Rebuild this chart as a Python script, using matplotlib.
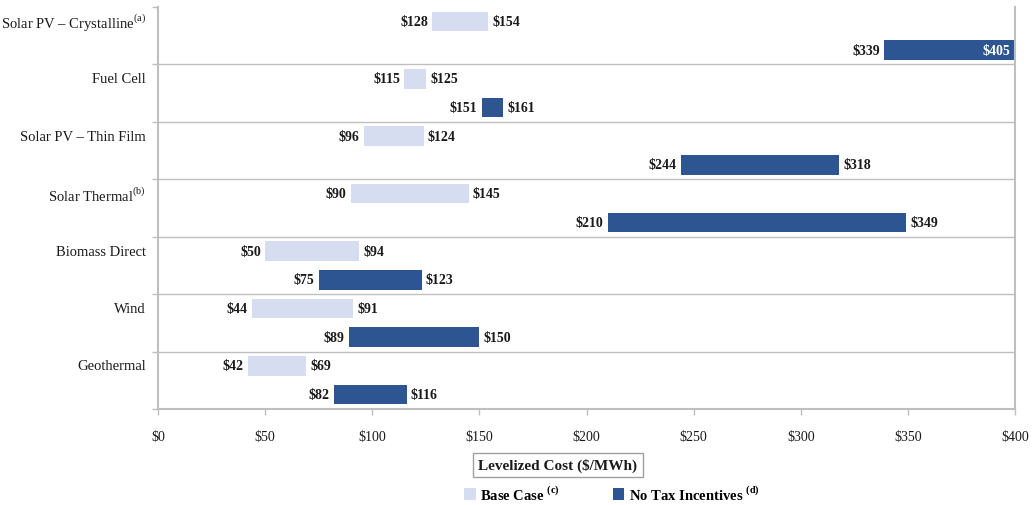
import matplotlib
matplotlib.use("Agg")
import matplotlib.pyplot as plt
from matplotlib.patches import Patch

plt.rcParams['font.family'] = ['Liberation Serif', 'DejaVu Serif']
plt.rcParams['mathtext.fontset'] = 'custom'
plt.rcParams['mathtext.rm'] = 'Liberation Serif'
plt.rcParams['mathtext.bf'] = 'Liberation Serif:bold'

categories = ["Solar PV – Crystalline", "Fuel Cell", "Solar PV – Thin Film",
              "Solar Thermal", "Biomass Direct", "Wind", "Geothermal"]
notes = ["(a)", "", "", "(b)", "", "", ""]
base_low = [128, 115, 96, 90, 50, 44, 42]
base_high = [154, 125, 124, 145, 94, 91, 69]
notax_low = [339, 151, 244, 210, 75, 89, 82]
notax_high = [405, 161, 318, 349, 123, 150, 116]
xticks = [0, 50, 100, 150, 200, 250, 300, 350, 400]

light = "#D7DDF1"
dark = "#2D5592"
grid = "#BFBFBF"
xmax = 400

fig = plt.figure(figsize=(10.34, 5.06), dpi=100)
ax = fig.add_axes([158 / 1034, 1 - 410 / 506, (1015 - 158) / 1034, (410 - 8) / 506])
ax.set_xlim(0, xmax)
ax.set_ylim(len(categories), 0)

h = 0.34
for i, cat in enumerate(categories):
    for lo, hi, col, yoff in ((base_low[i], base_high[i], light, 0.25),
                              (notax_low[i], notax_high[i], dark, 0.75)):
        y = i + yoff
        ax.barh(y, hi - lo, left=lo, height=h, color=col, edgecolor='none')
        ax.text(lo - 2, y, f"${lo}", ha='right', va='center', fontsize=10,
                fontweight='bold', color='#1a1a1a')
        if hi > xmax:
            ax.text(xmax - 2, y, f"${hi}", ha='right', va='center', fontsize=10,
                    fontweight='bold', color='white')
        else:
            ax.text(hi + 2, y, f"${hi}", ha='left', va='center', fontsize=10,
                    fontweight='bold', color='#1a1a1a')
    label = cat + (r"$^{\mathrm{" + notes[i] + "}}$" if notes[i] else "")
    ax.text(-0.014, i + 0.25, label, transform=ax.get_yaxis_transform(),
            ha='right', va='center', fontsize=10.5, color='#1a1a1a')

# group separators
for b in range(1, len(categories)):
    ax.axhline(b, color=grid, lw=1)

ax.set_yticks(range(len(categories) + 1))
ax.set_yticklabels([])
ax.set_xticks(xticks)
ax.set_xticklabels([f"${t}" for t in xticks], fontsize=10, color='#1a1a1a')
ax.tick_params(axis='both', color=grid, length=4, width=1)
ax.tick_params(axis='x', pad=11)
for s in ('left', 'right', 'bottom'):
    ax.spines[s].set_color(grid)
    ax.spines[s].set_linewidth(1.5)
ax.spines['top'].set_visible(False)

fig.text(558 / 1034, 1 - 466 / 506, "Levelized Cost ($/MWh)", ha='center', va='center',
         fontsize=11, fontweight='bold', color='#1a1a1a',
         bbox=dict(boxstyle='square,pad=0.35', facecolor='white', edgecolor='#A0A0A0', lw=1))

handles = [Patch(facecolor=light, edgecolor='none', label=r"Base Case $^{\mathbf{(c)}}$"),
           Patch(facecolor=dark, edgecolor='none', label=r"No Tax Incentives $^{\mathbf{(d)}}$")]
leg = fig.legend(handles=handles, loc='center', bbox_to_anchor=(612 / 1034, 1 - 494 / 506),
                 ncol=2, frameon=False, handlelength=0.8, handleheight=0.8,
                 handletextpad=0.3, columnspacing=3.6,
                 prop={'size': 10.5, 'weight': 'bold'})

fig.savefig("out.png", dpi=100)
